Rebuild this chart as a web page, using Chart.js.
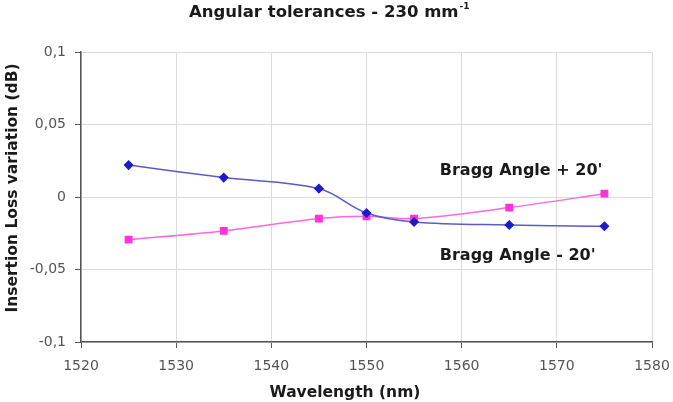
<!DOCTYPE html>
<html>
<head>
<meta charset="utf-8">
<script src="https://cdn.jsdelivr.net/npm/chart.js@4/dist/chart.umd.min.js"></script>
<style>
html,body{margin:0;padding:0;background:#fff;}
#wrap{width:673px;height:402px;position:relative;}
</style>
</head>
<body>
<div id="wrap"><canvas id="c" width="673" height="402"></canvas></div>
<script>
const wavelengths = [1525, 1535, 1545, 1550, 1555, 1565, 1575];
const braggMinus = [0.022, 0.0134, 0.0058, -0.011, -0.0172, -0.0193, -0.0202];
const braggPlus = [-0.0294, -0.0234, -0.0149, -0.0133, -0.0149, -0.0073, 0.0023];
const xTicks = [1520, 1530, 1540, 1550, 1560, 1570, 1580];
const yTicks = [-0.1, -0.05, 0, 0.05, 0.1];
const chartTitle = "Angular tolerances - 230 mm";
const xTitle = "Wavelength (nm)";
const yTitle = "Insertion Loss variation (dB)";
const labelPlus = "Bragg Angle + 20'";
const labelMinus = "Bragg Angle - 20'";

const toPts = (xs, ys) => xs.map((x, i) => ({x: x, y: ys[i]}));
const BOLD = '"DejaVu Sans", "Liberation Sans", Arial, sans-serif';
const TICKF = '"DejaVu Sans", sans-serif';

const textPlugin = {
  id: 'texts',
  afterDraw(chart) {
    const ctx = chart.ctx;
    const xs = chart.scales.x, ys = chart.scales.y;
    ctx.save();
    ctx.fillStyle = '#1a1a1a';
    // title
    ctx.font = 'bold 16.5px ' + BOLD;
    ctx.textAlign = 'left';
    ctx.textBaseline = 'middle';
    ctx.fillText(chartTitle, 189, 13);
    const tw = ctx.measureText(chartTitle).width;
    ctx.font = 'bold 9px ' + BOLD;
    ctx.fillText('-1', 189 + tw + 1, 7);
    // axis titles
    ctx.font = 'bold 15.5px ' + BOLD;
    ctx.textAlign = 'center';
    ctx.fillText(xTitle, 345, 393);
    ctx.save();
    ctx.translate(13, 188);
    ctx.rotate(-Math.PI / 2);
    ctx.font = 'bold 15.5px ' + BOLD;
    ctx.fillText(yTitle, 0, 0);
    ctx.restore();
    // annotations
    ctx.font = 'bold 16px ' + BOLD;
    ctx.textAlign = 'left';
    ctx.fillText(labelPlus, xs.getPixelForValue(1557.7), ys.getPixelForValue(0.018));
    ctx.fillText(labelMinus, xs.getPixelForValue(1557.7), ys.getPixelForValue(-0.0403));
    ctx.restore();
  }
};

new Chart(document.getElementById('c'), {
  type: 'line',
  data: {
    datasets: [
      {
        label: labelMinus,
        data: toPts(wavelengths, braggMinus),
        borderColor: '#5a5ac8',
        backgroundColor: '#1c1ccc',
        borderWidth: 1.5,
        pointStyle: 'rectRot',
        pointRadius: 4,
        pointBorderColor: '#1c1ccc',
        pointBackgroundColor: '#1c1ccc',
        tension: 0.35,
        fill: false
      },
      {
        label: labelPlus,
        data: toPts(wavelengths, braggPlus),
        borderColor: '#ff66e0',
        backgroundColor: '#ff33dd',
        borderWidth: 1.5,
        pointStyle: 'rect',
        pointRadius: 4.5,
        pointBorderColor: '#ff33dd',
        pointBackgroundColor: '#ff33dd',
        tension: 0.3,
        fill: false
      }
    ]
  },
  options: {
    responsive: false,
    animation: false,
    layout: {padding: {top: 52, right: 21, left: 0, bottom: 0}},
    plugins: {legend: {display: false}, title: {display: false}, tooltip: {enabled: false}},
    scales: {
      x: {
        type: 'linear',
        min: 1520, max: 1580,
        afterFit: s => { s.height = 60; s.paddingLeft = 0; s.paddingRight = 0; },
        afterBuildTicks: s => { s.ticks = xTicks.map(v => ({value: v})); },
        grid: {color: '#dcdcdc', lineWidth: 1, drawTicks: true, tickLength: 6, tickColor: '#555'},
        border: {color: '#555', width: 1.5},
        ticks: {color: '#555', font: {family: TICKF, size: 14}, padding: 10, maxRotation: 0,
          callback: v => String(v)}
      },
      y: {
        min: -0.1, max: 0.1,
        afterFit: s => { s.width = 81; s.paddingTop = 0; s.paddingBottom = 0; },
        afterBuildTicks: s => { s.ticks = yTicks.map(v => ({value: v})); },
        grid: {color: '#dcdcdc', lineWidth: 1, drawTicks: true, tickLength: 6, tickColor: '#555'},
        border: {color: '#555', width: 1.5},
        ticks: {color: '#555', font: {family: TICKF, size: 14}, padding: 9,
          callback: v => String(Math.round(v * 100) / 100).replace('.', ',')}
      }
    }
  },
  plugins: [textPlugin]
});
</script>
</body>
</html>
